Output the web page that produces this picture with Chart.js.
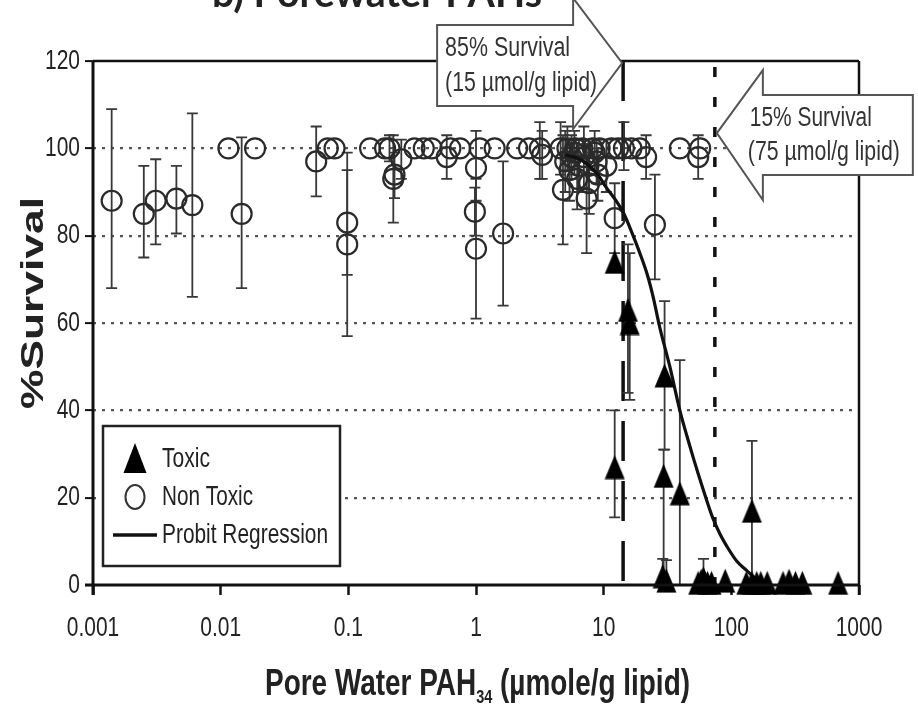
<!DOCTYPE html>
<html>
<head>
<meta charset="utf-8">
<script src="https://cdn.jsdelivr.net/npm/chart.js@4.4.1/dist/chart.umd.min.js"></script>
<style>
  html, body { margin: 0; padding: 0; background: #fff; }
  canvas { display: block; }
</style>
</head>
<body>
<canvas id="chart" width="918" height="707"></canvas>
<script>
// Porewater PAH survival plot (log x axis, probit fit + toxic / non toxic stations)

const xTickValues = [0.001, 0.01, 0.1, 1, 10, 100, 1000];
const xTickLabels = ['0.001', '0.01', '0.1', '1', '10', '100', '1000'];
const yTickValues = [0, 20, 40, 60, 80, 100, 120];
const yTickLabels = ['0', '20', '40', '60', '80', '100', '120'];

// non toxic stations (open circles), error bar low / high (null = no bar)
const nonToxicX = [0.0014, 0.0025, 0.0031, 0.0045, 0.006, 0.0115, 0.0146, 0.0186, 0.056, 0.069,
  0.078, 0.098, 0.098, 0.148, 0.194, 0.21, 0.225, 0.23, 0.26, 0.33,
  0.39, 0.45, 0.59, 0.63, 0.75, 1.0, 0.98, 1.0, 1.07, 1.4,
  1.63, 2.1, 2.6, 3.16, 3.3, 4.8, 5.2, 5.6, 6.0, 6.4,
  6.8, 7.35, 7.7, 8.2, 8.8, 9.3, 10.5, 11.5, 12.2, 13.0,
  14.4, 16.5, 19.2, 21.5, 25.2, 39.5, 55, 57,
  4.6, 5.0, 5.4, 5.9, 6.2, 7.0, 7.6, 8.5, 9.0];
const nonToxicY = [88, 85, 88, 88.5, 87, 100, 85, 100, 97, 100,
  100, 83, 78, 100, 100, 100, 93, 94, 97.5, 100,
  100, 100, 98, 100, 100, 95.5, 85.5, 77, 100, 100,
  80.5, 100, 100, 100, 98.5, 90.5, 100, 98, 100, 96,
  100, 88.5, 92, 100, 97, 100, 96, 100, 84, 100,
  100, 100, 100, 98, 82.5, 100, 98, 100,
  100, 97, 95, 99, 93, 98, 96, 99, 94];
const nonToxicLow = [68, 75, 78, 80.5, 66, null, 68, null, 89, null,
  null, 71, 57, null, null, 97, 83, 88.6, 93, null,
  null, null, 93, null, null, 88, 80, 61, null, null,
  64, null, null, 93, 93, 78, 95, 93, null, 90,
  null, 76, 85, null, 92, null, 90, null, 76, null,
  95, null, null, 93, 70, null, 93, null,
  94, 90, 88, 94, 86, 91, 90, 94, 88];
const nonToxicHigh = [109, 96, 97.5, 96, 108, null, 102.5, null, 105, null,
  null, 95, 99, null, null, 103, 103, 99, 102, null,
  null, null, 103, null, null, 104, 91, 93, null, null,
  97, null, null, 106, 104, 103, 105, 103, null, 102,
  null, 101, 99, null, 102, null, 102, null, 92, null,
  106, null, null, 103, 94, null, 103, null,
  106, 104, 102, 104, 100, 105, 102, 104, 100];

// toxic stations (filled triangles)
const toxicX = [12.2, 12.2, 15.5, 16, 30, 29.5, 39.5, 29, 31, 145,
  55, 58, 60.5, 65, 70, 89.6, 131, 145, 158, 170,
  191, 254, 283, 318, 360, 686];
const toxicY = [74, 27, 63, 60, 48, 25, 21, 2, 1, 17,
  0.5, 1, 1.5, 0.5, 0.5, 1, 0.5, 0.5, 0.5, 0.5,
  0.5, 0.5, 1, 0.5, 0.5, 0.5];
const toxicLow = [null, 15.5, 44, 42.4, 31, 0, 0, 0, 0, 0,
  null, null, 0, null, null, null, null, null, null, null,
  null, null, null, null, null, null];
const toxicHigh = [null, 40, 78, 76, 65, 31, 51.5, 6, 5.7, 33,
  null, null, 6, null, null, null, null, null, null, null,
  null, null, null, null, null, null];

// probit regression curve
const probitX = [5, 6.5, 7.7, 9, 10.5, 12.5, 14.4, 17, 19.2, 22, 24.4, 27.5, 33, 39.5, 45, 50.5, 60, 71, 82, 92.5, 110, 131, 158];
const probitY = [98.5, 97.5, 96, 94, 91, 88, 85, 80, 76, 71, 66, 59, 50, 40, 34, 29, 22, 15.6, 11.5, 8.8, 5.5, 3.4, 1.2];

// LC85 / LC15 reference lines
const lc85 = 14.2;
const lc15 = 74.3;

const TXT = '"Liberation Sans", Arial, sans-serif';
const INK = '#222';

function pts(xs, ys) {
  return xs.map((x, i) => ({ x: x, y: ys[i] }));
}

// filled triangle marker (a bit taller than wide, as in the figure)
const triMark = document.createElement('canvas');
triMark.width = 21;
triMark.height = 25;
(function () {
  const c = triMark.getContext('2d');
  c.fillStyle = '#000';
  c.beginPath();
  c.moveTo(10.5, 0.5);
  c.lineTo(20.5, 24.5);
  c.lineTo(0.5, 24.5);
  c.closePath();
  c.fill();
})();

function fitText(ctx, text, x, y, font, width, sy, align, base) {
  ctx.save();
  ctx.font = font;
  ctx.textAlign = align || 'left';
  ctx.textBaseline = base || 'middle';
  const w = ctx.measureText(text).width;
  const sx = width ? width / w : 1;
  ctx.translate(x, y);
  ctx.scale(sx, sy);
  ctx.fillText(text, 0, 0);
  ctx.restore();
}

function drawErrs(ctx, xs, lows, highs, xs_, ys_) {
  ctx.save();
  ctx.strokeStyle = '#383838';
  ctx.lineWidth = 1.8;
  for (let i = 0; i < xs.length; i++) {
    if (lows[i] == null) continue;
    const px = xs_.getPixelForValue(xs[i]);
    const pl = ys_.getPixelForValue(lows[i]);
    const ph = ys_.getPixelForValue(highs[i]);
    ctx.beginPath();
    ctx.moveTo(px, pl); ctx.lineTo(px, ph);
    ctx.moveTo(px - 5.5, pl); ctx.lineTo(px + 5.5, pl);
    ctx.moveTo(px - 5.5, ph); ctx.lineTo(px + 5.5, ph);
    ctx.stroke();
  }
  ctx.restore();
}

function arrow(ctx, p) {
  ctx.save();
  ctx.beginPath();
  p.forEach((q, i) => i ? ctx.lineTo(q[0], q[1]) : ctx.moveTo(q[0], q[1]));
  ctx.closePath();
  ctx.fillStyle = '#fff';
  ctx.fill();
  ctx.strokeStyle = '#555';
  ctx.lineWidth = 2;
  ctx.stroke();
  ctx.restore();
}

const decor = {
  id: 'decor',
  beforeDraw(chart) {
    const ctx = chart.ctx;
    ctx.save();
    ctx.fillStyle = '#fff';
    ctx.fillRect(0, 0, chart.width, chart.height);
    ctx.restore();
  },
  beforeDatasetsDraw(chart) {
    const ctx = chart.ctx, a = chart.chartArea;
    const xs = chart.scales.x, ys = chart.scales.y;
    ctx.save();
    ctx.strokeStyle = '#111';
    ctx.lineWidth = 3.5;
    let px = xs.getPixelForValue(lc85);
    ctx.setLineDash([40, 20]);
    ctx.beginPath(); ctx.moveTo(px, a.top); ctx.lineTo(px, a.bottom); ctx.stroke();
    px = xs.getPixelForValue(lc15);
    ctx.setLineDash([10, 20]);
    ctx.beginPath(); ctx.moveTo(px, a.top + 6); ctx.lineTo(px, a.bottom); ctx.stroke();
    ctx.restore();
    drawErrs(ctx, nonToxicX, nonToxicLow, nonToxicHigh, xs, ys);
    drawErrs(ctx, toxicX, toxicLow, toxicHigh, xs, ys);
  },
  afterDraw(chart) {
    const ctx = chart.ctx, a = chart.chartArea;
    const xs = chart.scales.x, ys = chart.scales.y;

    // frame
    ctx.save();
    ctx.strokeStyle = '#111';
    ctx.lineWidth = 3;
    ctx.beginPath();
    ctx.moveTo(a.left, a.top); ctx.lineTo(a.left, a.bottom + 10);
    ctx.moveTo(a.left - 8, a.bottom); ctx.lineTo(a.right, a.bottom);
    ctx.stroke();
    ctx.lineWidth = 2.5;
    ctx.beginPath();
    ctx.moveTo(a.left, a.top); ctx.lineTo(a.right, a.top);
    ctx.moveTo(a.right, a.top); ctx.lineTo(a.right, a.bottom + 10);
    ctx.stroke();
    ctx.restore();

    // tick labels
    ctx.fillStyle = INK;
    yTickValues.forEach((v, i) => {
      fitText(ctx, yTickLabels[i], a.left - 13, ys.getPixelForValue(v), '21px ' + TXT, null, 1.35, 'right');
    });
    xTickValues.forEach((v, i) => {
      fitText(ctx, xTickLabels[i], xs.getPixelForValue(v), a.bottom + 43, '21px ' + TXT, null, 1.35, 'center');
    });

    // axis titles
    ctx.save();
    ctx.translate(43, 303);
    ctx.rotate(-Math.PI / 2);
    fitText(ctx, '%Survival', 0, 0, 'bold 32px ' + TXT, 212, 1.0, 'center', 'alphabetic');
    ctx.restore();

    ctx.save();
    const f1 = 'bold 27px ' + TXT, f2 = 'bold 14px ' + TXT;
    ctx.font = f1;
    const w1 = ctx.measureText('Pore Water PAH').width;
    const w3 = ctx.measureText(' (\u00b5mole/g lipid)').width;
    ctx.font = f2;
    const w2 = ctx.measureText('34').width;
    const sx = 425 / (w1 + w2 + w3), sy = 1.35;
    ctx.translate(265, 695);
    ctx.scale(sx, sy);
    ctx.textBaseline = 'alphabetic';
    ctx.textAlign = 'left';
    ctx.font = f1;
    ctx.fillText('Pore Water PAH', 0, 0);
    ctx.font = f2;
    ctx.fillText('34', w1, 6);
    ctx.font = f1;
    ctx.fillText(' (\u00b5mole/g lipid)', w1 + w2, 0);
    ctx.restore();

    // title, cut off by the top of the image
    fitText(ctx, 'b) Porewater PAHs', 212, 7, 'bold 34px Lato, "Open Sans", sans-serif', 330, 1.2, 'left', 'alphabetic');

    // legend
    ctx.save();
    ctx.fillStyle = '#fff';
    ctx.fillRect(103, 426, 237, 140);
    ctx.strokeStyle = '#222';
    ctx.lineWidth = 2.5;
    ctx.strokeRect(103, 426, 237, 140);
    ctx.fillStyle = '#000';
    ctx.beginPath();
    ctx.moveTo(135, 443); ctx.lineTo(146.5, 473); ctx.lineTo(123.5, 473); ctx.closePath();
    ctx.fill();
    ctx.strokeStyle = '#333';
    ctx.lineWidth = 2;
    ctx.beginPath();
    ctx.ellipse(135, 497, 9.5, 12, 0, 0, Math.PI * 2);
    ctx.stroke();
    ctx.strokeStyle = '#111';
    ctx.lineWidth = 3.5;
    ctx.beginPath();
    ctx.moveTo(113, 535); ctx.lineTo(157, 535);
    ctx.stroke();
    ctx.restore();
    ctx.fillStyle = INK;
    fitText(ctx, 'Toxic', 162, 459, '20px ' + TXT, 48, 1.4);
    fitText(ctx, 'Non Toxic', 162, 497, '20px ' + TXT, 91, 1.4);
    fitText(ctx, 'Probit Regression', 162, 535, '20px ' + TXT, 166, 1.4);

    // LC85 arrow (points at the top of the LC85 line)
    const t1 = xs.getPixelForValue(lc85) - 1, top = a.top;
    arrow(ctx, [[t1 - 185, top - 36], [t1 - 49, top - 36], [t1 - 49, top - 63], [t1, top + 2],
      [t1 - 49, top + 68], [t1 - 49, top + 45], [t1 - 185, top + 45]]);
    ctx.fillStyle = '#333';
    fitText(ctx, '85% Survival', t1 - 177, top - 13, '21px ' + TXT, 125, 1.3);
    fitText(ctx, '(15 \u00b5mol/g lipid)', t1 - 177, top + 22, '21px ' + TXT, 152, 1.3);

    // LC15 arrow (points at the LC15 line)
    const t2 = xs.getPixelForValue(lc15) + 2, ty = ys.getPixelForValue(103.5);
    arrow(ctx, [[t2, ty], [t2 + 46, ty - 63], [t2 + 46, ty - 38], [t2 + 196, ty - 38],
      [t2 + 196, ty + 42], [t2 + 46, ty + 42], [t2 + 46, ty + 67]]);
    ctx.fillStyle = '#333';
    fitText(ctx, '15% Survival', t2 + 33, ty - 15, '21px ' + TXT, 122, 1.3);
    fitText(ctx, '(75 \u00b5mol/g lipid)', t2 + 31, ty + 19, '21px ' + TXT, 152, 1.3);
  }
};

new Chart(document.getElementById('chart'), {
  type: 'scatter',
  data: {
    datasets: [
      {
        label: 'Toxic',
        data: pts(toxicX, toxicY),
        pointStyle: triMark,
        pointRadius: 10,
        clip: false
      },
      {
        label: 'Probit Regression',
        data: pts(probitX, probitY),
        showLine: true,
        borderColor: '#111',
        borderWidth: 3.2,
        pointRadius: 0,
        cubicInterpolationMode: 'monotone',
        clip: false
      },
      {
        label: 'Non Toxic',
        data: pts(nonToxicX, nonToxicY),
        pointStyle: 'circle',
        pointRadius: 10,
        borderColor: '#2a2a2a',
        borderWidth: 2.2,
        backgroundColor: 'rgba(0,0,0,0)',
        clip: false
      }
    ]
  },
  options: {
    responsive: false,
    animation: false,
    layout: { padding: { top: 61, right: 59, left: 0, bottom: 0 } },
    plugins: { legend: { display: false }, tooltip: { enabled: false } },
    scales: {
      x: {
        type: 'logarithmic',
        min: 0.001,
        max: 1000,
        afterBuildTicks: s => { s.ticks = xTickValues.map(v => ({ value: v })); },
        afterFit: s => { s.height = 122; },
        ticks: { display: false },
        grid: {
          display: true, drawOnChartArea: false, drawTicks: true,
          tickLength: 10, tickWidth: 2.5, tickColor: '#111', color: 'rgba(0,0,0,0)'
        },
        border: { display: false }
      },
      y: {
        type: 'linear',
        min: 0,
        max: 120,
        afterBuildTicks: s => { s.ticks = yTickValues.map(v => ({ value: v })); },
        afterFit: s => { s.width = 93; },
        ticks: { display: false },
        grid: {
          color: c => (c.tick && (c.tick.value === 0 || c.tick.value === 120)) ? 'rgba(0,0,0,0)' : '#555',
          lineWidth: 2.2, tickLength: 8, tickWidth: 2, tickColor: '#111'
        },
        border: { display: false, dash: [3, 6] }
      }
    }
  },
  plugins: [decor]
});
</script>
</body>
</html>
